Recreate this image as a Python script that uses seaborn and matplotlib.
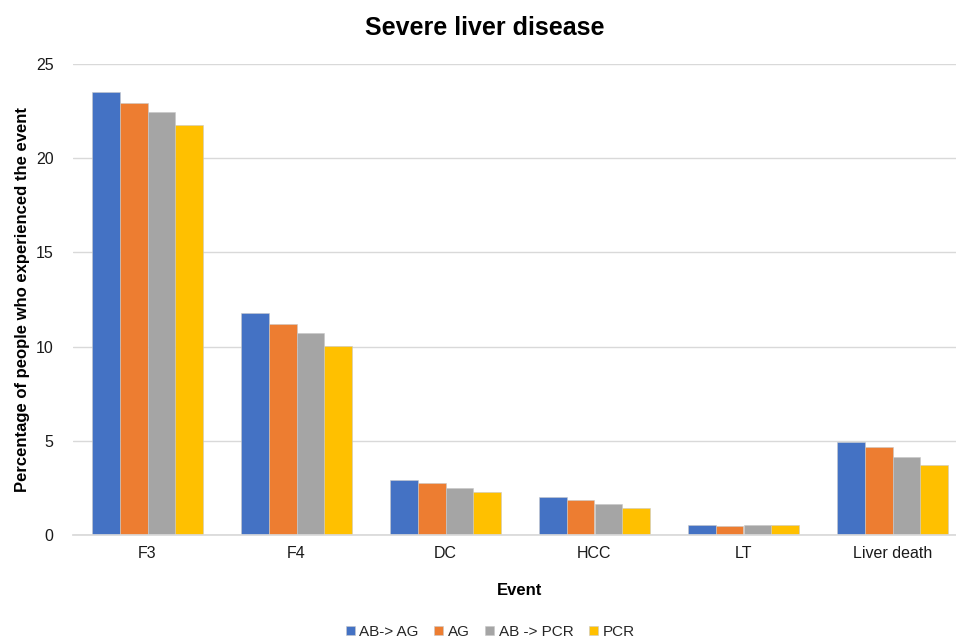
import matplotlib
matplotlib.use("Agg")
import matplotlib.pyplot as plt
import pandas as pd
import seaborn as sns

# ---------------------------------------------------------------------------
# Données
# ---------------------------------------------------------------------------
events = ["F3", "F4", "DC", "HCC", "LT", "Liver death"]
series = ["AB-> AG", "AG", "AB -> PCR", "PCR"]

ab_ag = [23.5, 11.77, 2.94, 2.03, 0.51, 4.95]
ag = [22.95, 11.22, 2.78, 1.87, 0.48, 4.67]
ab_pcr = [22.44, 10.70, 2.49, 1.65, 0.55, 4.12]
pcr = [21.76, 10.05, 2.27, 1.43, 0.53, 3.70]

colors = ["#4472C4", "#ED7D31", "#A5A5A5", "#FFC000"]

df = pd.DataFrame({"Event": events, series[0]: ab_ag, series[1]: ag,
                   series[2]: ab_pcr, series[3]: pcr})
df_long = df.melt(id_vars="Event", var_name="Strategy", value_name="Pct")

sns.set_theme(style="white")
plt.rcParams["font.family"] = ["Liberation Sans", "DejaVu Sans"]

fig = plt.figure(figsize=(9.56, 6.4), dpi=100)
ax = fig.add_axes([73 / 956, 1 - 535 / 640, 894 / 956, 471 / 640])

sns.barplot(data=df_long, x="Event", y="Pct", hue="Strategy",
            hue_order=series, order=events, palette=colors,
            saturation=1, width=0.74, ax=ax, legend=True)

for p in ax.patches:
    p.set_edgecolor("#c8c8c8")
    p.set_linewidth(0.4)

ax.set_ylim(0, 25)
ax.set_yticks([0, 5, 10, 15, 20, 25])
ax.yaxis.grid(True, color="#d9d9d9", linewidth=1)
ax.set_axisbelow(True)
for s in ["left", "right", "top"]:
    ax.spines[s].set_visible(False)
ax.spines["bottom"].set_color("#d9d9d9")
ax.tick_params(axis="both", labelsize=11.5, colors="#1a1a1a", length=0, pad=8)
ax.tick_params(axis="y", pad=14)

ax.set_xlabel("Event", fontsize=12, fontweight="bold", labelpad=16,
              color="black")
ax.set_ylabel("Percentage of people who experienced the event",
              fontsize=12, fontweight="bold", labelpad=4, color="black")

fig.text(485 / 956, 1 - 28 / 640, "Severe liver disease", ha="center",
         va="center", fontsize=18, fontweight="bold", color="black")

handles, labels = ax.get_legend_handles_labels()
ax.legend_.remove()
fig.legend(handles, labels, loc="center", bbox_to_anchor=(490 / 956, 1 - 632 / 640),
           ncol=4, frameon=False, fontsize=11, handlelength=0.6,
           handleheight=0.6, handletextpad=0.3, columnspacing=1.0)

fig.savefig("out.png", dpi=100)
